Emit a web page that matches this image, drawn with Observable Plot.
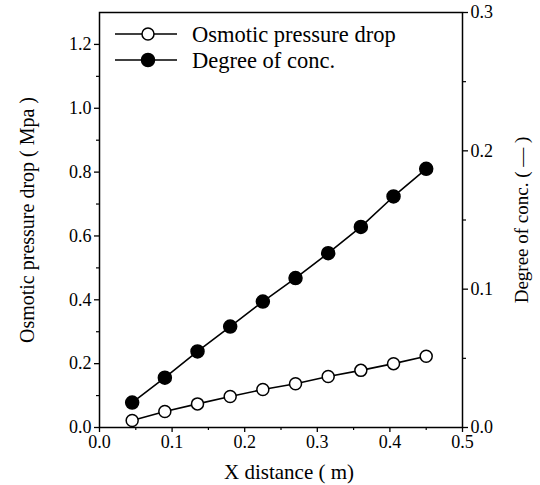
<!DOCTYPE html>
<html>
<head>
<meta charset="utf-8">
<script src="https://cdn.jsdelivr.net/npm/d3@7"></script>
<script src="https://cdn.jsdelivr.net/npm/@observablehq/plot@0.6"></script>
<style>
  html, body { margin: 0; padding: 0; background: #fff; }
  svg { display: block; }
  svg text { font-family: "Liberation Serif", "DejaVu Serif", "Times New Roman", serif !important; }
  g[aria-label="x-axis label"] text { font-size: 21px; }
  g[aria-label="y-axis label"] text { font-size: 20px; }
</style>
</head>
<body>
<div id="chart"></div>
<script>
// Data
const xDistance = [0.045, 0.09, 0.135, 0.18, 0.225, 0.27, 0.315, 0.36, 0.405, 0.45];
const osmoticPressureDrop = [0.022, 0.050, 0.074, 0.097, 0.119, 0.137, 0.160, 0.179, 0.200, 0.223]; // Mpa, left axis
const degreeOfConc = [0.018, 0.036, 0.055, 0.073, 0.091, 0.108, 0.126, 0.145, 0.167, 0.187];      // (-), right axis

const xMajor = [0, 0.1, 0.2, 0.3, 0.4, 0.5];
const xMinor = [0.05, 0.15, 0.25, 0.35, 0.45];
const yLeftMajor = [0, 0.2, 0.4, 0.6, 0.8, 1.0, 1.2];
const yLeftMinor = [0.1, 0.3, 0.5, 0.7, 0.9, 1.1];
const yRightMajor = [0, 0.1, 0.2, 0.3];
const yRightMinor = [0.05, 0.15, 0.25];
const seriesNames = ["Osmotic pressure drop", "Degree of conc."];

const leftMax = 1.3, rightMax = 0.3;
const k = leftMax / rightMax; // right -> left units

const pressureRows = xDistance.map((x, i) => ({x, y: osmoticPressureDrop[i]}));
const concRows = xDistance.map((x, i) => ({x, y: degreeOfConc[i] * k}));

const font = "Liberation Serif, DejaVu Serif, serif";

const chart = Plot.plot({
  width: 540,
  height: 485,
  marginLeft: 99,
  marginRight: 78,
  marginTop: 12,
  marginBottom: 58,
  style: {fontFamily: font, fontSize: "18px", background: "white", color: "black", overflow: "visible"},
  x: {domain: [0, 0.5], axis: null},
  y: {domain: [0, leftMax], axis: null},
  marks: [
    Plot.frame({stroke: "black", strokeWidth: 1.5}),
    // bottom axis
    Plot.axisX(xMajor, {anchor: "bottom", tickSize: 5, tickPadding: 3, strokeWidth: 1.3,
      tickFormat: d => d.toFixed(1), fontSize: 18,
      label: "X distance ( m)", labelAnchor: "center", labelArrow: "none", labelOffset: 51}),
    Plot.axisX(xMinor, {anchor: "bottom", tickSize: 3, strokeWidth: 1.2, tickFormat: () => "", label: null}),
    // left axis
    Plot.axisY(yLeftMajor, {anchor: "left", tickSize: 5, tickPadding: 3, strokeWidth: 1.3,
      tickFormat: d => d.toFixed(1), fontSize: 18,
      label: "Osmotic pressure drop ( Mpa )", labelAnchor: "center", labelArrow: "none", labelOffset: 80}),
    Plot.axisY(yLeftMinor, {anchor: "left", tickSize: 3, strokeWidth: 1.2, tickFormat: () => "", label: null}),
    // right axis (Degree of conc.)
    Plot.axisY(yRightMajor.map(v => v * k), {anchor: "right", tickSize: 5, tickPadding: 3, strokeWidth: 1.3,
      tickFormat: d => (d / k).toFixed(1), fontSize: 18,
      label: "Degree of conc. ( — )", labelAnchor: "center", labelArrow: "none", labelOffset: 65}),
    Plot.axisY(yRightMinor.map(v => v * k), {anchor: "right", tickSize: 3, strokeWidth: 1.2, tickFormat: () => "", label: null}),
    // series
    Plot.line(concRows, {x: "x", y: "y", stroke: "black", strokeWidth: 1.6}),
    Plot.dot(concRows, {x: "x", y: "y", r: 6.5, fill: "black", stroke: "black"}),
    Plot.line(pressureRows, {x: "x", y: "y", stroke: "black", strokeWidth: 1.6}),
    Plot.dot(pressureRows, {x: "x", y: "y", r: 6, fill: "white", stroke: "black", strokeWidth: 1.5})
  ]
});

document.getElementById("chart").appendChild(chart);

const svg = d3.select(chart);

// nudge the x-axis title slightly right, as in the reference
svg.selectAll('g[aria-label="x-axis label"]').each(function() {
  const t = this.getAttribute("transform") || "";
  this.setAttribute("transform", (t + " translate(8,0)").trim());
});

// shrink the right-axis title slightly (it is shorter than the left one in the reference)
svg.selectAll('g[aria-label="y-axis label"] text')
  .filter(function() { return this.textContent.startsWith("Degree"); })
  .style("font-size", "19px");

// Legend (inside plot, top-left)
const lg = svg.append("g").attr("aria-label", "legend").attr("text-anchor", "start");
const legendItems = [
  {name: seriesNames[0], fill: "white"},
  {name: seriesNames[1], fill: "black"}
];
legendItems.forEach((d, i) => {
  const cy = 34 + i * 26;
  lg.append("line").attr("x1", 115).attr("x2", 177).attr("y1", cy).attr("y2", cy)
    .attr("stroke", "black").attr("stroke-width", 1.6);
  lg.append("circle").attr("cx", 148).attr("cy", cy).attr("r", d.fill === "white" ? 6 : 6.5)
    .attr("fill", d.fill).attr("stroke", "black").attr("stroke-width", 1.5);
  lg.append("text").attr("x", 192).attr("y", cy).attr("dy", "0.35em")
    .attr("text-anchor", "start").attr("font-size", 22.5).attr("fill", "black").text(d.name);
});

// make sure every text uses the serif face
svg.selectAll("text").style("font-family", "'Liberation Serif', 'DejaVu Serif', serif");
</script>
</body>
</html>
